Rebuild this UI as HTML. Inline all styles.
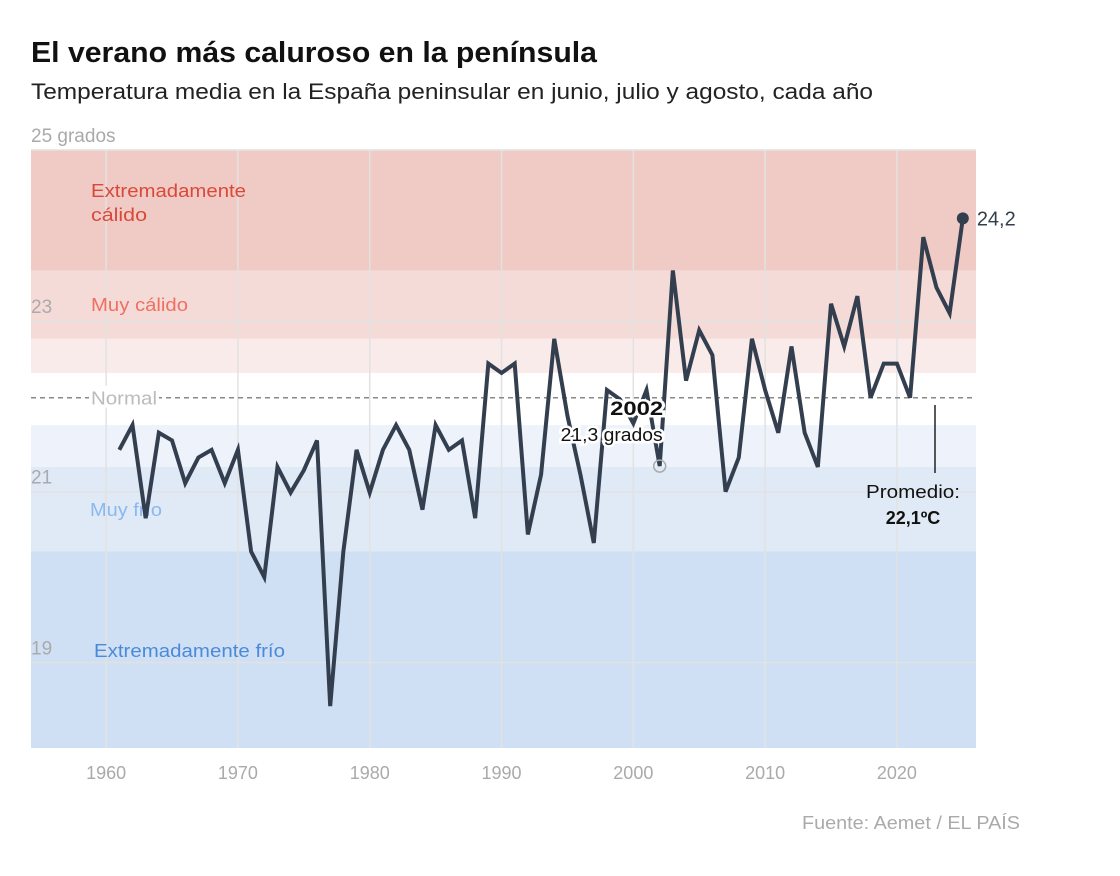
<!DOCTYPE html>
<html><head><meta charset="utf-8">
<style>
body{margin:0;background:#fff;font-family:"Liberation Sans",sans-serif;}
#wrap{position:relative;width:1120px;height:876px;overflow:hidden;}
</style></head>
<body>
<div id="wrap">
<svg id="chart" width="1120" height="876" font-family="Liberation Sans, sans-serif"></svg>
</div>
<script>
const years=[1961,1962,1963,1964,1965,1966,1967,1968,1969,1970,1971,1972,1973,1974,1975,1976,1977,1978,1979,1980,1981,1982,1983,1984,1985,1986,1987,1988,1989,1990,1991,1992,1993,1994,1995,1996,1997,1998,1999,2000,2001,2002,2003,2004,2005,2006,2007,2008,2009,2010,2011,2012,2013,2014,2015,2016,2017,2018,2019,2020,2021,2022,2023,2024,2025];
const temps=[21.49,21.78,20.69,21.69,21.6,21.1,21.4,21.49,21.1,21.49,20.3,20.0,21.29,20.99,21.25,21.6,18.49,20.3,21.49,20.99,21.49,21.78,21.49,20.79,21.78,21.49,21.6,20.69,22.5,22.39,22.5,20.5,21.2,22.79,21.89,21.19,20.4,22.19,22.08,21.8,22.19,21.3,23.59,22.3,22.89,22.6,21.0,21.4,22.79,22.19,21.69,22.7,21.69,21.29,23.2,22.7,23.29,22.1,22.5,22.5,22.1,23.98,23.39,23.09,24.2];
const xTicks=[1960,1970,1980,1990,2000,2010,2020];
const yTicks=[25,23,21,19];
const yTickLabels=["25 grados","23","21","19"];
const bandBounds=[25,23.59,22.79,22.39,21.78,21.29,20.3,18];
const bandColors=["#f0cac4","#f5dbd8","#f9ebe9","#ffffff","#eef3fb","#e0e9f6","#d0e0f4"];
const average=22.1;

const X0=31,X1=976,Y0=150,Y1=748;
const xMin=1954.3,xMax=2026,yMin=18,yMax=25;
const xs=v=>X0+(v-xMin)/(xMax-xMin)*(X1-X0);
const ys=v=>Y0+(yMax-v)/(yMax-yMin)*(Y1-Y0);
const svg=document.getElementById('chart');
const NS="http://www.w3.org/2000/svg";
function mk(tag,attrs,parent){const e=document.createElementNS(NS,tag);for(const k in attrs)e.setAttribute(k,attrs[k]);(parent||svg).appendChild(e);return e;}
function txt(x,y,s,attrs){const t=mk('text',Object.assign({x:x,y:y},attrs));t.textContent=s;return t;}

let t=txt(31,62,"El verano más caluroso en la península",{"font-size":29,"font-weight":"bold",fill:"#111",textLength:566,lengthAdjust:"spacingAndGlyphs"});


t=txt(31,99,"Temperatura media en la España peninsular en junio, julio y agosto, cada año",{"font-size":22,fill:"#222",textLength:842,lengthAdjust:"spacingAndGlyphs"});



for(let i=0;i<bandColors.length;i++){
  const r=mk('rect',{x:X0,y:ys(bandBounds[i]),width:X1-X0,height:ys(bandBounds[i+1])-ys(bandBounds[i]),fill:bandColors[i]});
  
  
}
xTicks.forEach(v=>{
  const l=mk('line',{x1:xs(v),x2:xs(v),y1:Y0,y2:Y1,stroke:"#e2e2e2","stroke-width":1.5});
  
  
  const tx=txt(xs(v),779,String(v),{"font-size":18,fill:"#aaa","text-anchor":"middle"});
  
  
});
yTicks.forEach((v,i)=>{
  const l=mk('line',{x1:X0,x2:X1,y1:ys(v),y2:ys(v),stroke:"#e2e2e2","stroke-width":1.5});
  
  
  const tx=txt(31,ys(v)-8,yTickLabels[i],{"font-size":19,fill:"#aaa"});
  
  
});
[["Extremadamente",91,197,"#d9493a",155],["cálido",91,221,"#d9493a",56],["Muy cálido",91,311,"#f07060",97],["Muy frío",90,516,"#8ab8f0",72],["Extremadamente frío",94,657,"#4a8ad8",191]].forEach((d,i)=>{
  const tx=txt(d[1],d[2],d[0],{"font-size":18.5,fill:d[3],textLength:d[4],lengthAdjust:"spacingAndGlyphs"});
  
  
});
let avg=mk('line',{x1:X0,x2:X1,y1:ys(average),y2:ys(average),stroke:"#888","stroke-width":1.5,"stroke-dasharray":"5,4"});


let nr=mk('rect',{x:89,y:ys(average)-12,width:70,height:22,fill:"#fff"});


t=txt(91,ys(average)+7,"Normal",{"font-size":18.5,fill:"#bbb",textLength:66,lengthAdjust:"spacingAndGlyphs"});



const pts=years.map((y,i)=>xs(y)+","+ys(temps[i])).join(" ");
const pl=mk('polyline',{points:pts,fill:"none",stroke:"#333f4f","stroke-width":4,"stroke-linejoin":"miter"});


const li=years.length-1;
const dot=mk('circle',{cx:xs(years[li]),cy:ys(temps[li]),r:6,fill:"#333f4f"});


t=txt(xs(years[li])+14,ys(temps[li])+7,String(temps[li]).replace('.',','),{"font-size":20,fill:"#333f4f"});



const i02=years.indexOf(2002);
const c=mk('circle',{cx:xs(2002),cy:ys(temps[i02]),r:6,fill:"none",stroke:"#aaa","stroke-width":1.5});


t=txt(xs(2002)-23,415,"2002",{"font-size":19,"font-weight":"bold",fill:"#111","text-anchor":"middle",stroke:"#fff","stroke-width":5,"paint-order":"stroke",textLength:53,lengthAdjust:"spacingAndGlyphs"});


t=txt(xs(2002)-48,441,String(temps[i02]).replace('.',',')+" grados",{"font-size":18,fill:"#111","text-anchor":"middle",stroke:"#fff","stroke-width":5,"paint-order":"stroke",textLength:102,lengthAdjust:"spacingAndGlyphs"});



let pln=mk('line',{x1:935,x2:935,y1:405,y2:473,stroke:"#222","stroke-width":1.5});


t=txt(913,498,"Promedio:",{"font-size":18,fill:"#111","text-anchor":"middle",textLength:94,lengthAdjust:"spacingAndGlyphs"});


t=txt(913,524,String(average).replace('.',',')+"ºC",{"font-size":18,"font-weight":"bold",fill:"#111","text-anchor":"middle"});



t=txt(1020,829,"Fuente: Aemet / EL PAÍS",{"font-size":18,fill:"#aaa","text-anchor":"end",textLength:218,lengthAdjust:"spacingAndGlyphs"});


</script>
</body></html>
